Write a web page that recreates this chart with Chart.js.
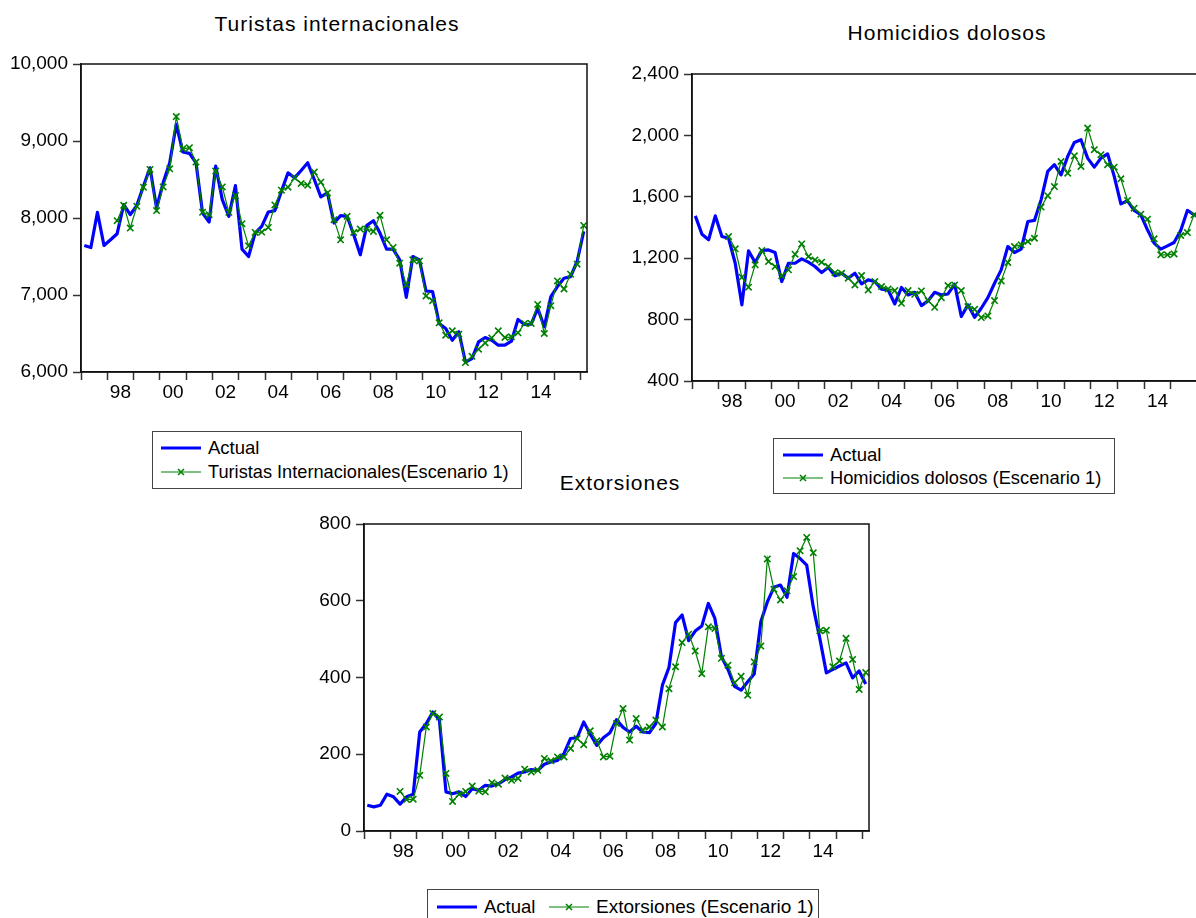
<!DOCTYPE html>
<html>
<head>
<meta charset="utf-8">
<script src="https://cdn.jsdelivr.net/npm/chart.js@4.4.0/dist/chart.umd.min.js"></script>
<style>
  html, body { margin:0; padding:0; background:#fff; }
  body { width:1196px; height:918px; overflow:hidden; position:relative; font-family:"Liberation Sans", Arial, sans-serif; color:#000; }
  .cv { position:absolute; }
  .title { position:absolute; font-size:21px; line-height:24px; letter-spacing:1px; white-space:nowrap; transform:translateX(-50%); }
  .legend { position:absolute; border:1px solid #444; background:#fff; box-sizing:border-box; }
  .item { position:absolute; height:22px; display:flex; align-items:center; font-size:18.5px; white-space:nowrap; }
  .item svg { margin-right:7px; }
</style>
</head>
<body>
<canvas id="c1" class="cv" width="600" height="364" style="left:0px;top:40px;width:600px;height:364px"></canvas>
<canvas id="c2" class="cv" width="610" height="363" style="left:610px;top:50px;width:610px;height:363px"></canvas>
<canvas id="c3" class="cv" width="600" height="363" style="left:280px;top:500px;width:600px;height:363px"></canvas>

<div class="title" style="left:337px;top:12px">Turistas internacionales</div>
<div class="title" style="left:947px;top:21px">Homicidios dolosos</div>
<div class="title" style="left:620px;top:471px">Extorsiones</div>

<div class="legend" style="left:152px;top:431px;width:370px;height:58px">
  <div class="item" style="left:8px;top:5px"><svg width="40" height="10"><line x1="0" y1="5" x2="40" y2="5" stroke="#0000ff" stroke-width="3"/></svg>Actual</div>
  <div class="item" style="left:8px;top:29px;font-size:18.2px"><svg width="40" height="10"><line x1="0" y1="5" x2="40" y2="5" stroke="#008000" stroke-width="1.2"/><path d="M17,2 L23,8 M17,8 L23,2" stroke="#008000" stroke-width="1.5"/></svg>Turistas Internacionales(Escenario 1)</div>
</div>
<div class="legend" style="left:773px;top:438px;width:342px;height:56px">
  <div class="item" style="left:9px;top:5px"><svg width="40" height="10"><line x1="0" y1="5" x2="40" y2="5" stroke="#0000ff" stroke-width="3"/></svg>Actual</div>
  <div class="item" style="left:9px;top:28px;font-size:18.3px"><svg width="40" height="10"><line x1="0" y1="5" x2="40" y2="5" stroke="#008000" stroke-width="1.2"/><path d="M17,2 L23,8 M17,8 L23,2" stroke="#008000" stroke-width="1.5"/></svg>Homicidios dolosos (Escenario 1)</div>
</div>
<div class="legend" style="left:427px;top:889px;width:392px;height:40px">
  <div class="item" style="left:9px;top:6px"><svg width="40" height="10"><line x1="0" y1="5" x2="40" y2="5" stroke="#0000ff" stroke-width="3"/></svg>Actual</div>
  <div class="item" style="left:121px;top:6px;font-size:19px"><svg width="40" height="10"><line x1="0" y1="5" x2="40" y2="5" stroke="#008000" stroke-width="1.2"/><path d="M17,2 L23,8 M17,8 L23,2" stroke="#008000" stroke-width="1.5"/></svg>Extorsiones (Escenario 1)</div>
</div>

<script>
// ---- Data (quarterly, 1997Q1 .. 2016Q1) ----
const startYear = 1997;
const yearLabelYears = [1998, 2000, 2002, 2004, 2006, 2008, 2010, 2012, 2014];

const turistasActual = [7643,7617,8074,7643,7717,7796,8174,8043,8165,8413,
  8652,8130,8457,8717,9217,8857,8839,8717,8065,7948,
  8674,8239,8022,8422,7596,7500,7804,7891,8078,8096,
  8348,8587,8522,8617,8717,8500,8274,8326,7935,8030,
  8022,7783,7522,7904,7965,7804,7596,7596,7457,6970,
  7500,7457,7052,7043,6630,6565,6413,6522,6130,6174,
  6391,6448,6413,6348,6348,6400,6683,6617,6622,6826,
  6587,6978,7109,7217,7239,7435,7826];
const turistasEscenario = [null,null,null,null,null,
  7965,8165,7870,8152,8400,8630,8096,8404,8639,9317,
  8900,8913,8726,8074,8043,8609,8404,8074,8291,7926,
  7639,7813,7817,7878,8170,8361,8400,8522,8448,8426,
  8596,8465,8326,7978,7717,8022,7813,7857,7857,7826,
  8035,7717,7617,7413,7130,7457,7443,6987,6926,6639,
  6478,6535,6491,6122,6204,6296,6378,6443,6535,6448,
  6457,6509,6630,6630,6878,6500,6861,7183,7078,7270,
  7400,7904];
const turistasTicks = [6000,7000,8000,9000,10000];

const homicidiosActual = [1476,1356,1320,1476,1341,1330,1167,896,1248,1172,
  1250,1254,1237,1048,1167,1167,1196,1174,1146,1106,
  1141,1085,1102,1070,1102,1033,1059,1048,998,993,
  902,1009,961,978,891,922,978,961,967,1030,
  820,896,815,874,943,1037,1124,1276,1237,1259,
  1439,1446,1580,1765,1809,1743,1863,1954,1972,1852,
  1793,1852,1880,1733,1554,1574,1511,1483,1385,1298,
  1259,1280,1302,1380,1511,1483,1470];
const homicidiosEscenario = [null,null,null,null,null,
  1341,1261,1076,1011,1157,1250,1178,1146,1085,1124,
  1226,1293,1211,1189,1174,1146,1106,1102,1070,1026,
  1087,993,1048,1015,1000,989,906,989,965,987,
  924,880,943,1022,1026,989,885,867,813,824,
  924,1052,1172,1276,1287,1309,1330,1533,1607,1667,
  1830,1754,1867,1798,2048,1907,1874,1809,1793,1717,
  1576,1526,1487,1454,1326,1222,1222,1228,1348,1367,
  1483,1480];
const homicidiosTicks = [400,800,1200,1600,2000,2400];

const extorsionesActual = [67,63,67,96,89,70,89,96,258,280,
  310,289,102,97,102,90,110,106,119,117,
  123,134,141,151,154,160,158,174,180,184,
  202,241,243,284,252,223,243,256,290,270,
  258,273,258,256,280,380,426,543,563,496,
  521,534,593,554,454,421,377,367,389,409,
  545,597,635,641,609,723,710,693,584,502,
  412,421,430,438,399,417,383];
const extorsionesEscenario = [null,null,null,null,null,
  103,82,83,145,271,306,297,150,77,96,
  103,117,104,102,126,122,138,132,137,161,
  154,158,189,183,193,193,215,241,225,261,
  235,193,195,280,319,237,293,263,271,289,
  271,371,428,491,513,469,410,532,528,450,
  432,386,403,354,441,482,709,630,602,626,
  663,730,765,725,522,523,428,443,502,447,
  369,413];
const extorsionesTicks = [0,200,400,600,800];

// ---- Helpers ----
const FONT = { family: '"Liberation Sans", Arial, sans-serif', size: 19 };
function toPoints(arr) {
  return arr.map((v, i) => ({ x: startYear + (i + 0.5) / 4, y: v }));
}
const framePlugin = {
  id: 'frame',
  afterDatasetsDraw(chart) {
    const { ctx, chartArea: a } = chart;
    ctx.save();
    ctx.strokeStyle = '#111';
    ctx.lineWidth = 1.5;
    ctx.strokeRect(a.left, a.top, a.right - a.left, a.bottom - a.top);
    ctx.restore();
  }
};

function makeChart(id, actual, escenario, yTicks, padding) {
  const nObs = actual.length;
  const xMax = startYear + nObs / 4;
  return new Chart(document.getElementById(id), {
    type: 'line',
    data: {
      datasets: [
        {
          label: 'Escenario 1',
          data: toPoints(escenario),
          borderColor: '#008000',
          borderWidth: 1.2,
          pointStyle: 'crossRot',
          pointRadius: 4.5,
          pointBorderWidth: 1.6,
          pointBorderColor: '#008000',
          pointBackgroundColor: '#008000',
          tension: 0,
          fill: false,
          order: 0
        },
        {
          label: 'Actual',
          data: toPoints(actual),
          borderColor: '#0000ff',
          borderWidth: 3.2,
          borderJoinStyle: 'round',
          pointRadius: 0,
          tension: 0,
          fill: false,
          order: 1
        }
      ]
    },
    options: {
      responsive: false,
      animation: false,
      events: [],
      layout: { padding },
      plugins: { legend: { display: false }, tooltip: { enabled: false }, title: { display: false } },
      scales: {
        x: {
          type: 'linear',
          min: startYear,
          max: xMax,
          afterBuildTicks: (s) => {
            const t = [];
            for (let y = startYear; y <= Math.floor(xMax); y++) {
              t.push({ value: y });
              if (y + 0.5 < xMax) t.push({ value: y + 0.5 });
            }
            s.ticks = t;
          },
          ticks: {
            autoSkip: false, maxRotation: 0, minRotation: 0, padding: 1,
            color: '#000', font: FONT,
            callback: (v) => {
              const yr = Math.floor(v);
              if (v - yr === 0.5 && yearLabelYears.includes(yr)) return String(yr % 100).padStart(2, '0');
              return '';
            }
          },
          grid: {
            drawOnChartArea: false, drawTicks: true, tickLength: 8, tickWidth: 1.5,
            tickColor: (c) => (c.tick && Number.isInteger(c.tick.value)) ? '#333' : 'rgba(0,0,0,0)'
          },
          border: { display: true, color: '#111', width: 1.5 },
          afterFit: (s) => { s.height = 30; }
        },
        y: {
          min: yTicks[0],
          max: yTicks[yTicks.length - 1],
          afterBuildTicks: (s) => { s.ticks = yTicks.map(v => ({ value: v })); },
          ticks: {
            padding: 5, color: '#000', font: FONT,
            callback: (v) => Number(v).toLocaleString('en-US')
          },
          grid: { drawOnChartArea: false, drawTicks: true, tickLength: 8, tickWidth: 1.5, tickColor: '#333' },
          border: { display: true, color: '#111', width: 1.5 },
          afterFit: (s) => { s.width = 80; }
        }
      }
    },
    plugins: [framePlugin]
  });
}

makeChart('c1', turistasActual, turistasEscenario, turistasTicks, { left: 1, top: 24, right: 13, bottom: 2 });
makeChart('c2', homicidiosActual, homicidiosEscenario, homicidiosTicks, { left: 2, top: 24, right: 16, bottom: 2 });
makeChart('c3', extorsionesActual, extorsionesEscenario, extorsionesTicks, { left: 4, top: 24, right: 11, bottom: 2 });
</script>
</body>
</html>
